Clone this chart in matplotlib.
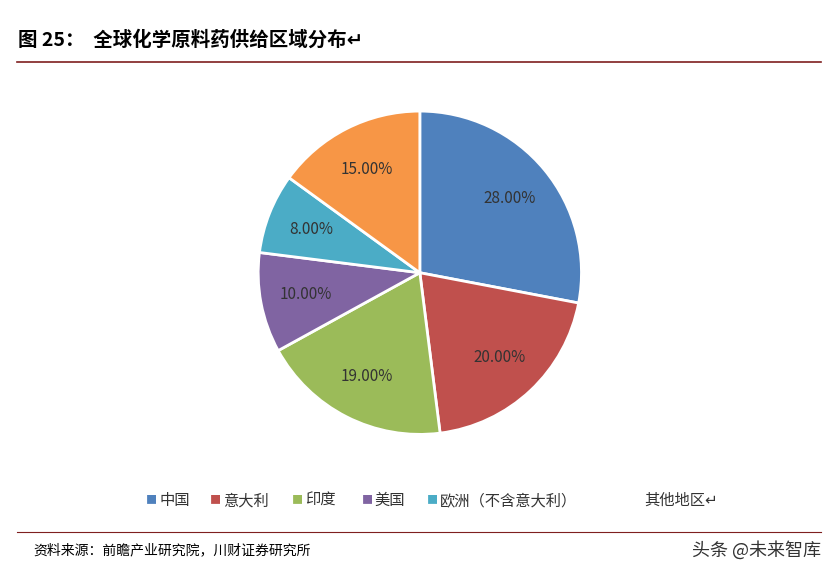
import matplotlib
matplotlib.use("Agg")
import matplotlib.pyplot as plt
from matplotlib.lines import Line2D

plt.rcParams['font.family'] = ['Noto Sans CJK SC', 'DejaVu Sans']

categories = ['中国', '意大利', '印度', '美国', '欧洲（不含意大利）', '其他地区']
values = [28, 20, 19, 10, 8, 15]
colors = ['#4F81BD', '#C0504D', '#9BBB59', '#8064A2', '#4BACC6', '#F79646']

fig = plt.figure(figsize=(8.33, 5.76), dpi=100)
fig.patch.set_facecolor('white')

fig.text(0.022, 0.930, '图 25：  全球化学原料药供给区域分布↵', fontsize=14, fontweight='bold', va='center')
fig.add_artist(Line2D([0.02, 0.985], [0.892, 0.892], color='#7F1F1F', lw=1.2))
fig.add_artist(Line2D([0.02, 0.985], [0.077, 0.077], color='#7F1F1F', lw=0.8))
fig.text(0.04, 0.045, '资料来源：前瞻产业研究院，川财证券研究所', fontsize=10, style='italic', va='center')
fig.text(0.985, 0.045, '头条 @未来智库', fontsize=13, ha='right', va='center', color='#333333')

ax = fig.add_axes([0.308, 0.243, 0.392, 0.567])
wedges, texts, autotexts = ax.pie(values, colors=colors, startangle=90, counterclock=False,
                                  autopct='%.2f%%', pctdistance=0.72,
                                  wedgeprops=dict(edgecolor='white', linewidth=2),
                                  textprops=dict(fontsize=11, color='#333333'))
ax.set_xlim(-1.01, 1.01)
ax.set_ylim(-1.01, 1.01)
ax.set_aspect('equal')

xs = [0.175, 0.252, 0.350, 0.434, 0.512, 0.758]
for i, (x, c, lab) in enumerate(zip(xs, colors, categories)):
    if i < 5:
        fig.text(x, 0.131, '■', color=c, fontsize=8, va='center', ha='left')
    fig.text(x + 0.016, 0.131, lab + ('↵' if i == 5 else ''), fontsize=11, va='center', color='#333333')

plt.savefig('out.png', dpi=100)
